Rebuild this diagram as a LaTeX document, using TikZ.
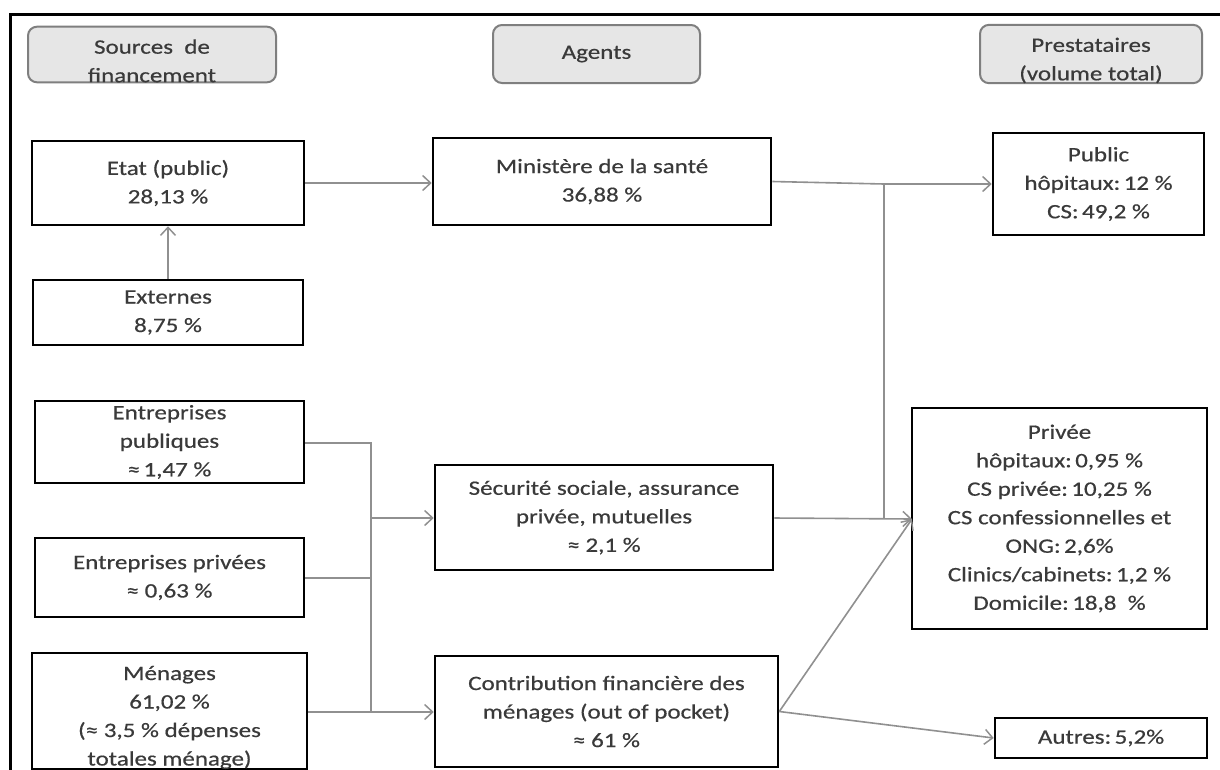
\documentclass[tikz,border=0pt]{standalone}
\usepackage{fontspec}
\setmainfont{Carlito}[FakeStretch=1.22, FakeBold=0.5]
\usetikzlibrary{arrows.meta}
\definecolor{txt}{HTML}{3A3A3A}
\definecolor{conncol}{HTML}{909090}
\definecolor{hdrfill}{HTML}{E6E6E6}
\definecolor{hdrdraw}{HTML}{7F7F7F}
\newcommand{\dropstrut}{\rule{0pt}{27pt}}
\tikzset{
  box/.style={draw=black, line width=2.6pt, text=txt, align=center, inner sep=0pt,
    font=\fontsize{20.5}{28.5}\selectfont},
  hdr/.style={draw=hdrdraw, fill=hdrfill, line width=2pt, rounded corners=9pt, text=txt,
    align=center, inner sep=0pt, font=\fontsize{20.5}{28.5}\selectfont},
  conn/.style={draw=conncol, line width=1.6pt},
  arr/.style={conn, -{Straight Barb[length=8pt,width=15pt,line width=1.5pt]}},
}
\begin{document}
\begin{tikzpicture}[x=1pt,y=-1pt]
\useasboundingbox (0,0) rectangle (1220,769);
\fill[white] (0,0) rectangle (1220,769);
\draw[line width=3pt, black] (10,775) -- (10,14) -- (1225,14);

% headers
\node[hdr, minimum width=248pt, minimum height=53pt] (hsrc) at (152,54.5) {\dropstrut Sources~~de\\financement};
\node[hdr, minimum width=207pt, minimum height=58pt] (hag) at (596.5,54) {Agents};
\node[hdr, minimum width=222pt, minimum height=58pt] (hpr) at (1091,54) {\dropstrut Prestataires\\(volume total)};

% sources
\node[box, minimum width=272pt, minimum height=84pt] (etat) at (168,183) {Etat (public)\\28,13 \%};
\node[box, minimum width=270pt, minimum height=65pt] (ext) at (168,312.5) {Externes\\8,75 \%};
\node[box, minimum width=269pt, minimum height=82pt] (entpub) at (169.5,442) {Entreprises\\publiques\\≈\,1,47 \%};
\node[box, minimum width=269pt, minimum height=79pt] (entpriv) at (169.5,577.5) {Entreprises privées\\≈ 0,63 \%};
\node[box, minimum width=275pt, minimum height=112pt] (men) at (169.5,711) {\dropstrut Ménages\\61,02 \%\\(≈ 3,5 \% dépenses\\totales ménage)};

% agents
\node[box, minimum width=338pt, minimum height=87pt] (min) at (602,181.5) {Ministère de la santé\\36,88 \%};
\node[box, minimum width=338pt, minimum height=105pt] (secu) at (604,517.5) {Sécurité sociale, assurance\\privée, mutuelles\\≈ 2,1 \%};
\node[box, minimum width=343pt, minimum height=111pt] (contrib) at (606.5,711.5) {Contribution financière des\\ménages (out of pocket)\\≈ 61 \%};

% prestataires
\node[box, minimum width=211pt, minimum height=102pt] (pub) at (1098.5,184) {Public\\hôpitaux:\,12 \%\\CS:\,49,2 \%};
\node[box, minimum width=295pt, minimum height=221pt] (priv) at (1059.5,518.5) {Privée\\hôpitaux:\,0,95 \%\\CS privée:\,10,25 \%\\CS confessionnelles et\\ONG:\,2,6\%\\Clinics/cabinets:\,1,2 \%\\Domicile:\,18,8~ \%};
\node[box, minimum width=212pt, minimum height=40pt] (aut) at (1101,738) {Autres:\,5,2\%};

% junction coordinates
\coordinate (j1) at (884,184);
\coordinate (j2) at (884,518);
\coordinate (b1) at (371,443);
\coordinate (b2) at (371,578);
\coordinate (b3) at (371,712);
\coordinate (bs) at (371,518);
\coordinate (pin) at (912,519);

% connectors
\draw[arr] (etat.east) -- (etat.east -| min.west);
\draw[arr] (ext.north) -- (etat.south);
\draw[arr] (min.east) -- (j1) -- (j1 -| pub.west);
\draw[conn] (j1) -- (j2);
\draw[arr] (secu.east |- j2) -- (pin);
\draw[conn] (entpub.east |- b1) -- (b1) -- (b3);
\draw[conn] (entpriv.east |- b2) -- (b2);
\draw[arr] (men.east |- b3) -- (b3 -| contrib.west);
\draw[arr] (bs) -- (bs -| secu.west);
\draw[arr] (contrib.east) -- (pin);
\draw[arr] (contrib.east) -- (aut.west);
\end{tikzpicture}
\end{document}
